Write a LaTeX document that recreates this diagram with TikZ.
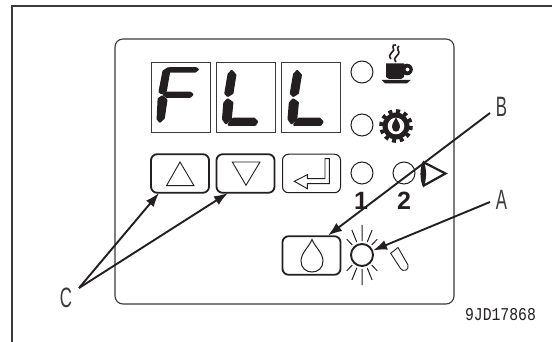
\documentclass[tikz,border=0pt]{standalone}
\usepackage{fontspec}
\setmainfont{Liberation Sans}
\newfontfamily\calloutfont[FakeStretch=0.6]{Liberation Sans}
\newfontfamily\partfont[FakeStretch=0.82]{Liberation Mono}
\usepackage{xcolor}
\usetikzlibrary{arrows.meta}
\definecolor{panelInk}{HTML}{231F20}
\definecolor{frameInk}{HTML}{3A3A3C}

% seven segment pieces, local to a digit box
\tikzset{seg/.style={fill=panelInk, draw=panelInk, line width=2.4pt, line join=round}}
\newcommand{\segF}[1]{
\path[seg,shift={(#1)}] (17.3,5.4) -- (12.6,8.4) -- (8.7,28.7) -- (10.7,30.2) -- (14.7,27.7) -- (17.7,10.3) -- cycle;
\path[seg,shift={(#1)}] (18.6,5.4) -- (45,5.4) -- (46.6,6.5) -- (44,8.4) -- (18.9,8.4) -- cycle;
\path[seg,shift={(#1)}] (15.4,29.8) -- (39,29.8) -- (41.2,31.4) -- (39,33.6) -- (15.6,33.6) -- (12.8,31.6) -- cycle;
\path[seg,shift={(#1)}] (11.3,33.6) -- (7.8,36) -- (6.8,56) -- (9,58.4) -- (12.6,55) -- (15.3,37) -- cycle;
}
\newcommand{\segL}[1]{
\path[seg,shift={(#1)}] (15.7,8.2) -- (12.7,11.4) -- (9.5,30.3) -- (11.7,32.8) -- (16.3,30) -- (19.2,12) -- cycle;
\path[seg,shift={(#1)}] (11.7,36.6) -- (8.5,40) -- (7.2,56) -- (10,60) -- (14.6,56) -- (16.2,39.7) -- cycle;
\path[seg,shift={(#1)}] (17.6,55.8) -- (38,55.8) -- (41,58.7) -- (39,61.6) -- (12.8,61.6) -- (16.2,57) -- cycle;
}

\begin{document}
\begin{tikzpicture}[
  x=1pt, y=-1pt,
  digitbox/.style={draw=frameInk, line width=1pt, minimum width=59pt, minimum height=70pt, inner sep=0pt},
  keybtn/.style={draw=panelInk, rounded corners=6pt, line width=1.8pt, minimum width=58pt,
                 minimum height=38.5pt, inner sep=0pt},
  led/.style={circle, draw=panelInk, line width=1pt, minimum size=22pt, inner sep=0pt},
  callout/.style={font=\calloutfont\fontsize{28}{28}\selectfont, text=frameInk, inner sep=0pt},
  ledno/.style={font=\bfseries\fontsize{25}{25}\selectfont, text=panelInk, inner sep=0pt},
  a/.style={-{Latex[length=14pt,width=10pt]}, draw=panelInk, line width=1.9pt}
]
\useasboundingbox (0,0) rectangle (552,342);
\fill[white] (0,0) rectangle (552,342);
\draw[frameInk, line width=1.4pt] (12,342) -- (12,6) -- (552,6);
\node[draw=frameInk, line width=1.1pt, rounded corners=8pt, minimum width=339pt, minimum height=265pt,
      inner sep=0pt] (panel) at (284.5,171.5) {};

\node[digitbox] (digitF) at (180.5,98) {};
\node[digitbox] (digitL) at (245.5,98) {};
\node[digitbox] (digitLL) at (311,98) {};
\segF{151,63}
\segL{216,63}
\segL{281.5,63}

\node[keybtn] (upBtn) at (180,173.5) {};
\node[keybtn] (downBtn) at (245.5,173.5) {};
\node[keybtn, line width=1pt] (enterBtn) at (311.5,173.5) {};
\node[keybtn] (dropBtn) at (311.5,255.5) {};
\draw[panelInk, line width=0.9pt] (180,162) -- (194,185.7) -- (166.5,185.7) -- cycle;
\draw[panelInk, line width=0.9pt] (232.3,162) -- (260,162) -- (246,185.3) -- cycle;
\draw[panelInk, line width=0.9pt] (325,158.7) -- (329.3,158.7) -- (329.3,183.7) -- (307.3,183.7)
  -- (307.3,188.7) -- (294.3,181.3) -- (307.3,174.7) -- (307.3,178.7) -- (325,178.7) -- cycle;
\draw[panelInk, line width=1pt] (312,239.5) .. controls (309,247) and (301,253) .. (301,261)
  .. controls (301,268) and (306,272) .. (312,272) .. controls (318,272) and (323,268) .. (323,261)
  .. controls (323,253) and (315,247) .. (312,239.5) -- cycle;

\node[led] (ledCoffee) at (362,72) {};
\node[led] (ledGear) at (362,125) {};
\node[led] (ledOne) at (362,173) {};
\node[led] (ledTwo) at (404,173) {};
\node[led, line width=1.9pt] (ledLit) at (362,255) {};
\node[ledno] (noOne) at (361,201) {1};
\node[ledno] (noTwo) at (404,201) {2};

% coffee cup
\fill[panelInk] (386,63.3) -- (404,63.3) -- (404,77) -- (401,79) -- (389,79) -- (386,77) -- cycle;
\fill[panelInk] (381.7,80) -- (410.7,80) -- (406.7,83.5) -- (385,83.5) -- cycle;
\fill[panelInk, even odd rule] (407,69.5) circle (5.8) (407.5,69.5) circle (2);
\draw[panelInk, line width=1.6pt] (391,59) .. controls (386,53) and (397,52) .. (393,47)
  .. controls (392,45) and (394,45) .. (396,45);
\draw[panelInk, line width=1.6pt] (396,62) .. controls (391,56) and (402,56) .. (398,50)
  .. controls (397,48) and (398,47) .. (399,46);

% gear
\fill[panelInk] (396,126) circle (13.5);
\draw[panelInk, line width=3.6pt, dash pattern=on 4pt off 3.85pt] (396,126) circle (15);
\fill[white] (396,126) circle (8.3);
\fill[panelInk] (396,117.3) .. controls (395,120.5) and (392,123) .. (392,127)
  .. controls (392,130) and (394,131.7) .. (396,131.7) .. controls (398,131.7) and (400,130) .. (400,127)
  .. controls (400,123) and (397,120.5) .. (396,117.3) -- cycle;

% eye
\draw[panelInk, line width=2.2pt, line join=miter] (423,162) -- (445.5,173.5) -- (423,186);
\fill[panelInk] (423.3,160.5) .. controls (419.5,168) and (419.5,180) .. (423.3,187.5)
  .. controls (427,180) and (427,168) .. (423.3,160.5) -- cycle;

% rays and lamp
\draw[panelInk, line width=1pt]
  (ledLit.center) ++(90:14) -- ++(90:16) (ledLit.center) ++(-90:14) -- ++(-90:16)
  (ledLit.center) ++(68:14) -- ++(68:13) (ledLit.center) ++(112:14) -- ++(112:13)
  (ledLit.center) ++(-68:14) -- ++(-68:13) (ledLit.center) ++(-112:14) -- ++(-112:13)
  (ledLit.center) ++(46:14) -- ++(46:8) (ledLit.center) ++(134:14) -- ++(134:8)
  (ledLit.center) ++(-46:14) -- ++(-46:8) (ledLit.center) ++(-134:14) -- ++(-134:8);
\draw[panelInk, line width=0.9pt] (390.7,253.3) -- (398,247.5) -- (408,265)
  .. controls (409.5,270) and (403,272.5) .. (400.5,268.5) -- cycle;

\node[callout] (labelA) at (501.5,200) {A};
\node[callout] (labelB) at (501.5,107) {B};
\node[callout] (labelC) at (66,298) {C};
\node[font=\partfont\fontsize{18}{18}\selectfont, text=panelInk, inner sep=0pt] (partNo) at (500.5,315) {9JD17868};

\coordinate (fromA) at (490,202);
\coordinate (fromB) at (490,113);
\coordinate (fromC) at (79,288);
\coordinate (tipUp) at (159,193);
\coordinate (tipDown) at (228,193);
\coordinate (tipDrop) at (328,235.5);

\draw[a] (fromA) -- (ledLit);
\draw[a] (fromB) -- (tipDrop);
\draw[a] (fromC) -- (tipUp);
\draw[a] (fromC) -- (tipDown);
\end{tikzpicture}
\end{document}
